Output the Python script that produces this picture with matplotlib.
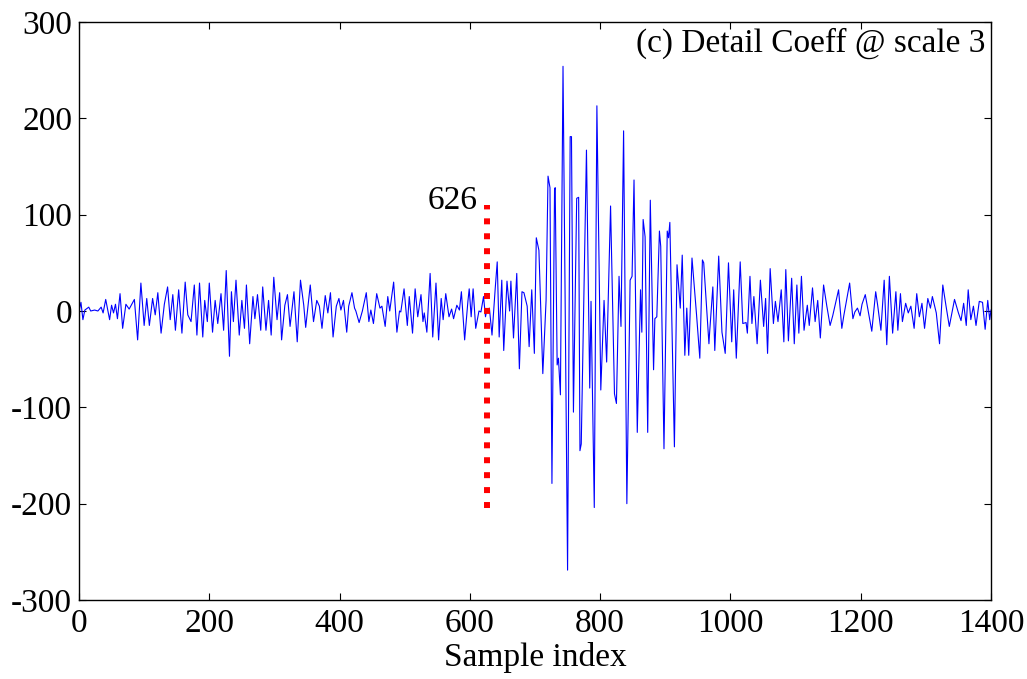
import matplotlib
matplotlib.use("Agg")
import matplotlib.pyplot as plt

# Detail coefficients at scale 3 (turning points of the trace)
sample_idx = [
    0, 3, 6, 9, 15, 18, 24, 29, 34, 37, 41, 47, 50, 53, 56, 59, 63, 67, 72, 77,
    81, 85, 90, 95, 100, 104, 108, 113, 117, 121, 126, 131, 136, 140, 144, 148,
    153, 158, 163, 167, 172, 177,
    181, 185, 190, 193, 197, 200, 205, 209, 213, 218, 222, 226, 231, 234, 237,
    241, 246, 250, 254, 257, 262, 267, 270, 274, 279, 282, 287, 291, 295, 299,
    304, 308, 311, 316, 320, 324, 330, 335, 340, 345, 348, 355,
    360, 365, 369, 373, 378, 382, 386, 390, 395, 399, 402, 406, 411, 414, 419,
    423, 425, 430, 435, 441, 445, 448, 452, 457, 462, 465, 470, 474, 477, 483,
    488, 492, 494, 499, 504, 507, 512, 516, 520, 525,
    528, 530, 534, 539, 543, 548, 552, 556, 559, 563, 568, 572, 575, 580, 584,
    587, 592, 597, 599, 602, 605, 609, 614, 617, 621, 624, 626, 630, 634, 639,
    642, 645, 649, 652, 657, 661, 663, 667, 672, 676, 680, 683, 688, 691,
    695, 699, 702, 706, 712, 717, 720, 723, 726, 730, 731, 734, 736, 739, 743,
    750, 754, 756, 759, 764, 767, 769, 771, 779, 784, 786, 791, 795, 801, 806,
    810, 816,
    822, 825, 829, 832, 836, 841, 846, 849, 852, 857, 862, 864, 866, 869, 873,
    877, 882, 884, 887, 891, 893, 898, 903, 905, 907,
    914, 918, 923, 926, 930, 933, 936, 941, 948, 953, 957, 959, 967, 968, 973,
    976, 982, 987, 992, 997, 1002, 1005, 1009, 1015, 1019, 1024, 1026, 1030,
    1033, 1036, 1041, 1046,
    1051, 1054, 1057, 1061, 1066, 1069, 1073, 1078, 1082, 1085, 1089, 1094,
    1098, 1102, 1105, 1109, 1113, 1118, 1121, 1126, 1130, 1134, 1138, 1143,
    1148, 1153, 1157, 1166, 1171, 1174, 1183, 1188, 1191, 1195, 1199, 1202,
    1207, 1211,
    1217, 1223, 1226, 1231, 1236, 1240, 1244, 1249, 1254, 1257, 1261, 1264,
    1269, 1273, 1277, 1282, 1286, 1290, 1294, 1298, 1303, 1307, 1310, 1316,
    1321, 1326, 1331, 1336, 1344, 1350, 1354, 1358, 1362, 1365, 1369, 1373,
    1377, 1382, 1387, 1391, 1395, 1398, 1400,
]
coeff = [
    0, 9, -9, 1, 4, 0, 1, 0, 4, -2, 12, -9, 6, -2, 7, -8, 18, -18, 7, 2,
    7, 12, -30, 29, -15, 13, -15, 13, -4, 19, -23, 7, 25, -9, 17, -20,
    22, -23, 30, -4, -11, 27,
    -25, 29, -27, 11, -11, 29, -22, 11, -13, 18, -20, 42, -47, 20, -11,
    32, -25, 11, -18, 27, -34, 15, -8, 17, -20, 25, -20, 11, -25, 35,
    -9, 19, -30, 6, 17, -16, 20, -32, 32, 6, -17, 27,
    -11, 11, 5, -18, 16, -2, 19, -27, 5, 13, 1, 11, -22, 5, 19,
    3, 0, -12, 0, 19, -11, 1, -13, 18, 3, 5, -16, 15, 0, 30,
    -22, 0, -1, 23, -15, 15, -23, 23, -6, 17,
    -11, -2, -22, 39, -27, 29, -30, 13, -9, 18, -6, 2, -8, 6, 1,
    20, -30, 10, 23, -6, 23, -18, 0, -1, 15, -6, 1, 3, -25, 24,
    51, -27, 32, -41, 31, 0, 31, -28, 39, -60, 20, 19, 5, -37,
    22, -44, 76, 63, -65, 11, 140, 128, -179, 126, 128, -56, -49, -87, 254,
    -269, 181, 181, -105, 117, 118, -145, -138, 167, -80, 10, -204, 213, -82, 11,
    -53, 109,
    -86, -96, 36, -16, 187, -200, 32, 36, 136, -126, 22, -22, 95, 77, -126,
    115, -61, -8, -6, 83, 67, -143, 83, 76, 92,
    -141, 48, 3, 58, -46, 3, -46, 55, -4, -49, 53, 50, -34, -23, 25,
    -41, 57, -22, -44, 50, -32, 22, -49, 51, -13, -12, -23, 36,
    -13, 15, -34, 32,
    -16, 13, -44, 44, -13, 10, -11, 22, -32, 43, -31, 34,
    -34, 27, -23, 36, -20, 6, -15, 24, -11, 11, -28, 27,
    5, -15, -5, 22, -18, -5, 29, -8, -1, 3, -5, 7,
    17, 2,
    -21, 20, 6, -20, 32, -35, 36, -23, 20, -20, 18, -11,
    8, -2, 5, -18, 18, -6, 8, -18, 13, 3, 15, -2,
    -34, 27, 5, -16, 12, -2, -10, 8, -15, 22, -9, 5,
    -15, 10, 9, -19, 11, -9, 1,
]

# Onset marker
onset_idx = 626
onset_span = [-205, 110]
onset_label = "626"

x_ticks = [0, 200, 400, 600, 800, 1000, 1200, 1400]
y_ticks = [-300, -200, -100, 0, 100, 200, 300]
panel_title = "(c) Detail Coeff @ scale 3"
x_label = "Sample index"

plt.rcParams["font.family"] = ["Liberation Serif", "DejaVu Serif"]
plt.rcParams["axes.unicode_minus"] = False
FS = 24

fig = plt.figure(figsize=(10.27, 6.79), dpi=100)
ax = fig.add_axes([79 / 1027, 1 - 600 / 679, 912 / 1027, 578 / 679])

ax.plot(sample_idx, coeff, color=(0, 0, 1), linewidth=0.8)
ax.plot([onset_idx, onset_idx], onset_span, color=(1, 0, 0),
        linewidth=4.3, linestyle=(0, (1, 1.5)), solid_capstyle="butt",
        dash_capstyle="butt")
ax.text(onset_idx - 14, onset_span[1] + 4, onset_label, fontsize=FS,
        ha="right", va="center")

ax.text(0.994, 0.99, panel_title, transform=ax.transAxes, fontsize=FS,
        ha="right", va="top")

ax.set_xlim(0, 1400)
ax.set_ylim(-300, 300)
ax.set_xticks(x_ticks)
ax.set_yticks(y_ticks)
ax.tick_params(direction="in", top=True, right=True, length=5, width=0.8,
               labelsize=FS, pad=5)
ax.tick_params(axis="x", pad=6)
for s in ax.spines.values():
    s.set_linewidth(1.0)
ax.set_xlabel(x_label, fontsize=FS, labelpad=2)

fig.savefig("out.png", dpi=100)
